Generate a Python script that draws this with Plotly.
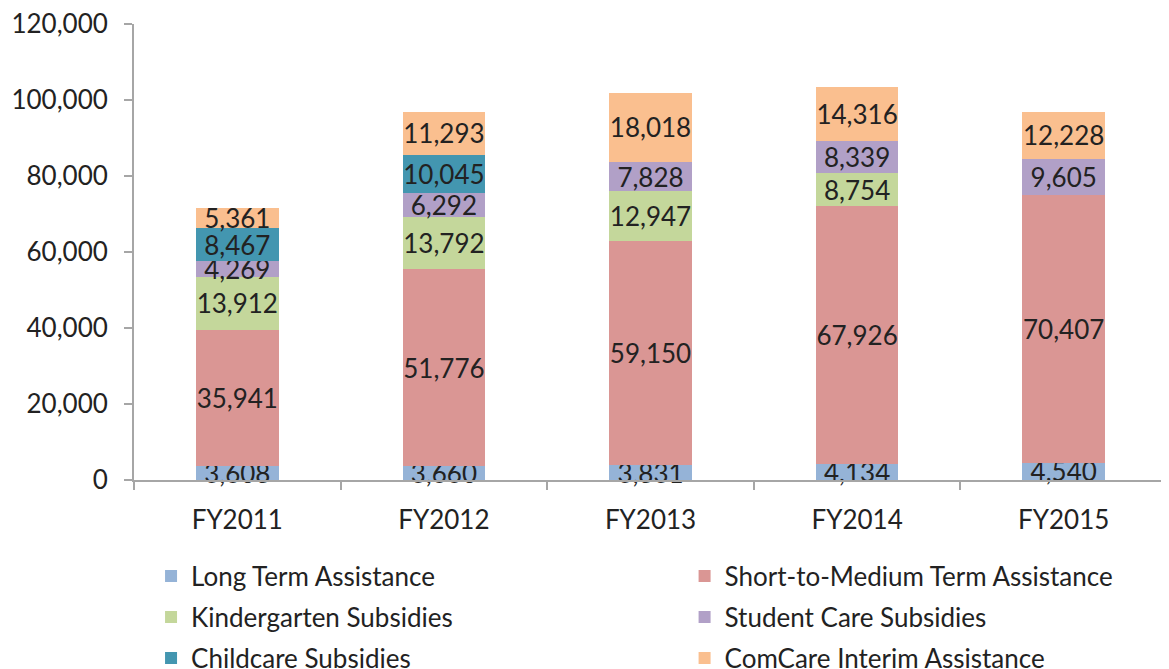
import plotly.graph_objects as go

categories = ["FY2011", "FY2012", "FY2013", "FY2014", "FY2015"]
long_term = [3608, 3660, 3831, 4134, 4540]
short_medium = [35941, 51776, 59150, 67926, 70407]
kindergarten = [13912, 13792, 12947, 8754, None]
student_care = [4269, 6292, 7828, 8339, 9605]
childcare = [8467, 10045, None, None, None]
comcare = [5361, 11293, 18018, 14316, 12228]

series = [
    ("Long Term Assistance", long_term, "#95B3D7"),
    ("Short-to-Medium Term Assistance", short_medium, "#DA9694"),
    ("Kindergarten Subsidies", kindergarten, "#C4D79B"),
    ("Student Care Subsidies", student_care, "#B1A0C7"),
    ("Childcare Subsidies", childcare, "#4396B0"),
    ("ComCare Interim Assistance", comcare, "#FABF8F"),
]

FONT = "Lato"
FS = 26
TXT = "#222222"
legend_names = ["legend", "legend2", "legend3", "legend4", "legend5", "legend6"]
col_x = [0.0165, 0.533]
row_y = [-0.2105, -0.3004, -0.3904]

fig = go.Figure()
for i, (name, vals, color) in enumerate(series):
    fig.add_trace(go.Bar(
        x=categories, y=vals, name=name, legend=legend_names[i],
        marker=dict(color=color, line=dict(width=0)),
        texttemplate="%{y:,}", textposition="inside", insidetextanchor="middle",
        textangle=0,
        textfont=dict(family=FONT, size=FS, color=TXT),
        constraintext="none", cliponaxis=False,
    ))

legends = {}
for i, ln in enumerate(legend_names):
    legends[ln] = dict(orientation="h", x=col_x[i % 2], y=row_y[i // 2],
                       xanchor="left", yanchor="middle",
                       bgcolor="rgba(0,0,0,0)",
                       font=dict(family=FONT, size=FS, color=TXT))

fig.update_layout(
    barmode="stack", bargap=0.6,
    width=1161, height=661,
    margin=dict(l=126, r=2, t=16, b=189, autoexpand=False),
    paper_bgcolor="white", plot_bgcolor="white",
    font=dict(family=FONT, size=FS, color=TXT),
    uniformtext=dict(minsize=FS, mode="show"),
    showlegend=True,
    **legends,
)
fig.update_yaxes(range=[0, 120000], dtick=20000, tickformat=",", showgrid=False,
                 showline=True, linecolor="#A6A6A6", linewidth=2,
                 ticks="outside", ticklen=8, tickcolor="#A6A6A6", tickwidth=2,
                 ticklabelstandoff=11, ticklabeloverflow="allow",
                 zeroline=False, tickfont=dict(size=FS))
fig.update_xaxes(showline=True, linecolor="#A6A6A6", linewidth=2,
                 ticks="outside", ticklen=8, tickcolor="#A6A6A6", tickwidth=2,
                 ticklabelstandoff=16, ticklabeloverflow="allow",
                 tickson="boundaries", showgrid=False, tickfont=dict(size=FS))

fig.write_html("out.html")
